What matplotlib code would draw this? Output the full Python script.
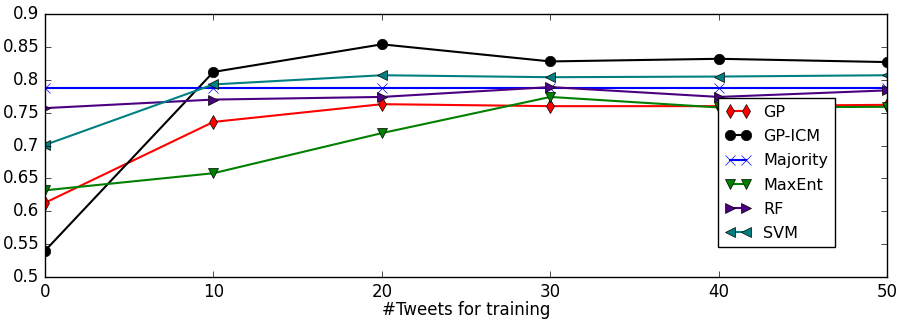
import numpy as np
import matplotlib.pyplot as plt

plt.style.use('classic')
plt.rcParams['figure.facecolor'] = 'white'
plt.rcParams['savefig.facecolor'] = 'white'

x = [0, 10, 20, 30, 40, 50]

gp = [0.613, 0.736, 0.763, 0.760, 0.760, 0.762]
gp_icm = [0.540, 0.812, 0.854, 0.828, 0.832, 0.827]
majority = [0.787, 0.787, 0.787, 0.787, 0.787, 0.787]
maxent = [0.632, 0.658, 0.719, 0.774, 0.758, 0.759]
rf = [0.757, 0.770, 0.774, 0.789, 0.774, 0.784]
svm = [0.701, 0.793, 0.807, 0.804, 0.805, 0.807]

fig = plt.figure(figsize=(8.99, 3.2), dpi=100)
ax = fig.add_axes([0.05, 0.134, 0.937, 0.822])

style = dict(lw=1.5, ms=7.5)
ax.plot(x, gp, color='r', marker='d', label='GP', **style)
ax.plot(x, gp_icm, color='k', marker='o', label='GP-ICM', **style)
ax.plot(x, majority, color='b', marker='x', mec='b', label='Majority', **style)
ax.plot(x, maxent, color='g', marker='v', label='MaxEnt', **style)
ax.plot(x, rf, color='#4b0082', marker='>', label='RF', **style)
ax.plot(x, svm, color='#008080', marker='<', label='SVM', **style)

ax.set_xlim(0, 50)
ax.set_ylim(0.5, 0.9)
ax.set_yticks(np.arange(0.5, 0.91, 0.05))
ax.set_yticklabels(['0.5', '0.55', '0.6', '0.65', '0.7', '0.75', '0.8', '0.85', '0.9'])
ax.set_xlabel('#Tweets for training', labelpad=0)

ax.legend(loc='upper left', bbox_to_anchor=(0.79, 0.71), fontsize=11.5,
          numpoints=2, fancybox=False, handlelength=1.6, labelspacing=0.58)

fig.savefig('out.png', dpi=100)
